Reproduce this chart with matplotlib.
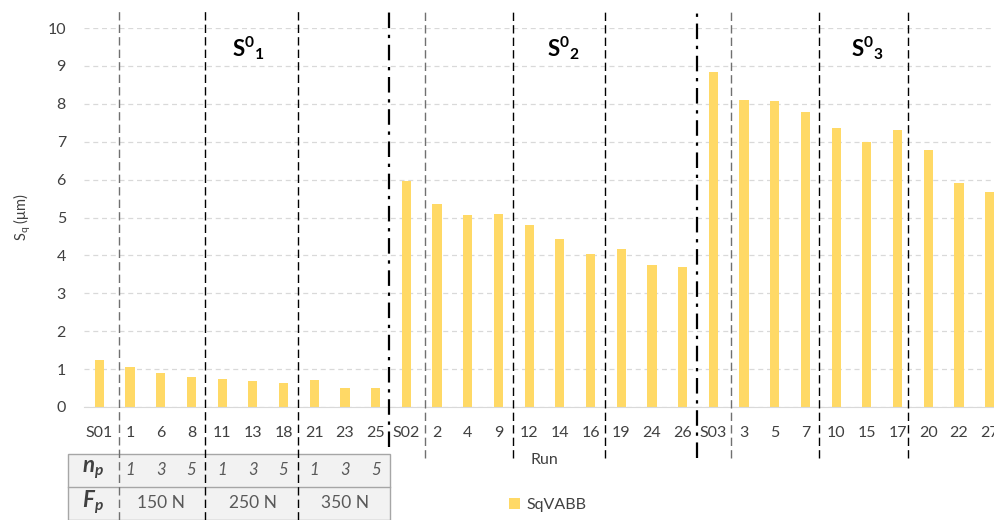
import matplotlib
matplotlib.use('Agg')
import matplotlib.pyplot as plt
from matplotlib.patches import Rectangle
from matplotlib.transforms import blended_transform_factory

plt.rcParams['font.family'] = ['Lato', 'DejaVu Sans']
plt.rcParams['mathtext.fontset'] = 'custom'
plt.rcParams['mathtext.rm'] = 'Lato'
plt.rcParams['mathtext.bf'] = 'Lato:bold'
plt.rcParams['mathtext.it'] = 'Lato:italic'
plt.rcParams['mathtext.bfit'] = 'Lato:bold:italic'

# data
runs = ['S01', '1', '6', '8', '11', '13', '18', '21', '23', '25',
        'S02', '2', '4', '9', '12', '14', '16', '19', '24', '26',
        'S03', '3', '5', '7', '10', '15', '17', '20', '22', '27']
sq = [1.24, 1.05, 0.90, 0.79, 0.74, 0.69, 0.63, 0.71, 0.50, 0.50,
      5.96, 5.36, 5.07, 5.09, 4.79, 4.44, 4.05, 4.18, 3.74, 3.69,
      8.84, 8.10, 8.07, 7.78, 7.36, 6.99, 7.31, 6.78, 5.91, 5.67]
n_p = ['1', '3', '5'] * 3
f_p = ['150 N', '250 N', '350 N']
groups = [r'$\mathbf{S^{0}{}_{1}}$', r'$\mathbf{S^{0}{}_{2}}$', r'$\mathbf{S^{0}{}_{3}}$']

W, H = 995, 520
fig = plt.figure(figsize=(W / 100, H / 100), dpi=100)
ax = fig.add_axes([84 / W, 1 - 407 / H, 921 / W, 379 / H])

bars = ax.bar(range(len(runs)), sq, width=0.3, color='#FFD966', label='SqVABB', zorder=3)

ax.set_xlim(-0.5, len(runs) - 0.5)
ax.set_ylim(0, 10)
ax.set_yticks(range(0, 11))
ax.set_xticks(range(len(runs)))
ax.set_xticklabels(runs)
ax.tick_params(length=0, labelsize=11.5, colors='#404040')
ax.tick_params(axis='x', pad=14)
ax.tick_params(axis='y', pad=13)
ax.grid(axis='y', color='#d9d9d9', linestyle=(0, (4, 3)), linewidth=0.9, zorder=0)
for s in ['top', 'right', 'left']:
    ax.spines[s].set_visible(False)
ax.spines['bottom'].set_color('#d9d9d9')
ax.spines['bottom'].set_zorder(4)
ax.set_ylabel('S$_\\mathregular{q}$ (μm)', fontsize=10.5, color='#404040', labelpad=10)
ax.set_xlabel('Run', fontsize=11.5, color='#404040', labelpad=9)

# parameter table under the first group
ftr = fig.transFigure
tr = blended_transform_factory(ax.transData, ftr)
fig.patches.append(Rectangle((68 / W, 0), (390 - 68) / W, 1 - 454 / H, transform=ftr,
                             facecolor='#f2f2f2', edgecolor='#a6a6a6', linewidth=1, zorder=1))
fig.add_artist(plt.Line2D([68 / W, 390 / W], [1 - 487 / H] * 2, transform=ftr,
                          color='#a6a6a6', linewidth=1, zorder=2))
fig.text(93 / W, 1 - 470 / H, r'$\mathbfit{n_p}$', ha='center', va='center',
         fontsize=16, color='#404040', zorder=3)
fig.text(93 / W, 1 - 502 / H, r'$\mathbfit{F_p}$', ha='center', va='center',
         fontsize=16, color='#404040', zorder=3)
for i, v in enumerate(n_p):
    fig.text(i + 1, 1 - 470 / H, v, transform=tr, ha='center', va='center',
             fontsize=12, style='italic', color='#595959', zorder=3)
for i, v in enumerate(f_p):
    fig.text(2 + 3 * i, 1 - 503 / H, v, transform=tr, ha='center', va='center',
             fontsize=12.5, color='#595959', zorder=3)

# separators between groups
top = 1 - 11 / H
seps = [(0.65, 0.0, '#707070', 'dash'), (3.45, 0.0, 'k', 'dash'), (6.48, 0.0, 'k', 'dash'),
        (9.44, 1 - 447 / H, 'k', 'dashdot'),
        (10.61, 1 - 458 / H, '#707070', 'dash'), (13.48, 1 - 458 / H, 'k', 'dash'),
        (16.47, 1 - 458 / H, 'k', 'dash'),
        (19.47, 1 - 458 / H, 'k', 'dashdot'),
        (20.58, 1 - 458 / H, '#707070', 'dash'), (23.44, 1 - 458 / H, 'k', 'dash'),
        (26.33, 1 - 458 / H, 'k', 'dash')]
for x, y0, c, st in seps:
    ls = (0, (6, 3)) if st == 'dash' else (0, (7, 3, 1.5, 3))
    lw = 1.0 if st == 'dash' else 1.6
    fig.add_artist(plt.Line2D([x, x], [y0, top], transform=tr, color=c, linestyle=ls,
                              linewidth=lw, zorder=5))

# group labels
for gx, g in zip([4.85, 15.1, 25.0], groups):
    ax.text(gx, 9.47, g, ha='center', va='center', fontsize=16, color='black')

fig.legend(handles=[bars], labels=['SqVABB'], loc='center',
           bbox_to_anchor=(548 / W, 1 - 505 / H), frameon=False, fontsize=11.5,
           handlelength=0.7, handleheight=0.7, handletextpad=0.4, labelcolor='#404040')

fig.savefig('out.png', dpi=100)
